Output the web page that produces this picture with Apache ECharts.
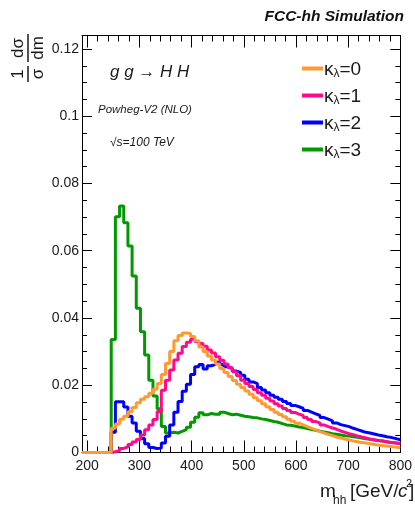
<!DOCTYPE html>
<html>
<head>
<meta charset="utf-8">
<script src="https://cdn.jsdelivr.net/npm/echarts@6/dist/echarts.min.js"></script>
<style>
  html, body { margin: 0; padding: 0; background: #fff; }
  #chart { width: 415px; height: 506px; }
</style>
</head>
<body>
<div id="chart"></div>
<script>
// Normalised m_hh distributions, 8 GeV bins starting at 190 GeV
const MASS_MIN = 190;
const MASS_MAX = 800;
const BIN_WIDTH = 8;

const leadingZeros = [0, 0, 0, 0, 0, 0, 0];

const kappa0 = leadingZeros.concat([
  0.0072, 0.0085, 0.0099, 0.0108, 0.0121, 0.0134, 0.0148, 0.0158, 0.0166, 0.0176,
  0.0188, 0.0205, 0.0232, 0.0265, 0.0300, 0.0332, 0.0348, 0.0355, 0.0354, 0.0345,
  0.0332, 0.0314, 0.0300, 0.0287, 0.0275, 0.0263, 0.0250, 0.0238, 0.0226, 0.0214,
  0.0203, 0.0193, 0.0183, 0.0173, 0.0163, 0.0154, 0.0145, 0.0136, 0.0128, 0.0120,
  0.0113, 0.0106, 0.0099, 0.0093, 0.0087, 0.0082, 0.0077, 0.0072, 0.0067, 0.0062,
  0.0058, 0.0054, 0.0050, 0.0046, 0.0043, 0.0040, 0.0037, 0.0034, 0.0032, 0.0030,
  0.0028, 0.0026, 0.0024, 0.0022, 0.0021, 0.0019, 0.0018, 0.0016, 0.0014
]);

const kappa1 = leadingZeros.concat([
  0.0002, 0.0006, 0.0012, 0.0017, 0.0024, 0.0031, 0.0039, 0.0052, 0.0068, 0.0082,
  0.0098, 0.0122, 0.0185, 0.0215, 0.0245, 0.0275, 0.0295, 0.0315, 0.0328, 0.0337,
  0.0330, 0.0324, 0.0316, 0.0305, 0.0296, 0.0285, 0.0274, 0.0263, 0.0252, 0.0240,
  0.0228, 0.0215, 0.0205, 0.0196, 0.0187, 0.0178, 0.0170, 0.0161, 0.0153, 0.0145,
  0.0138, 0.0131, 0.0125, 0.0119, 0.0114, 0.0110, 0.0104, 0.0098, 0.0092, 0.0088,
  0.0082, 0.0077, 0.0073, 0.0069, 0.0064, 0.0060, 0.0056, 0.0053, 0.0049, 0.0046,
  0.0043, 0.0040, 0.0038, 0.0036, 0.0034, 0.0032, 0.0030, 0.0028, 0.0026
]);

const kappa2 = leadingZeros.concat([
  0.0060, 0.0151, 0.0151, 0.0135, 0.0108, 0.0088, 0.0063, 0.0042, 0.0026, 0.0015,
  0.0012, 0.0013, 0.0028, 0.0048, 0.0082, 0.0120, 0.0152, 0.0182, 0.0203, 0.0232,
  0.0255, 0.0262, 0.0248, 0.0258, 0.0262, 0.0268, 0.0262, 0.0255, 0.0250, 0.0242,
  0.0238, 0.0230, 0.0218, 0.0210, 0.0205, 0.0193, 0.0186, 0.0178, 0.0170, 0.0164,
  0.0158, 0.0152, 0.0146, 0.0140, 0.0136, 0.0131, 0.0125, 0.0120, 0.0115, 0.0110,
  0.0104, 0.0099, 0.0094, 0.0088, 0.0083, 0.0080, 0.0077, 0.0072, 0.0068, 0.0064,
  0.0060, 0.0058, 0.0055, 0.0052, 0.0050, 0.0047, 0.0045, 0.0042, 0.0038
]);

const kappa3 = leadingZeros.concat([
  0.0336, 0.0701, 0.0733, 0.0683, 0.0614, 0.0525, 0.0429, 0.0359, 0.0290, 0.0215,
  0.0168, 0.0130, 0.0077, 0.0058, 0.0060, 0.0058, 0.0063, 0.0068, 0.0075, 0.0090,
  0.0105, 0.0118, 0.0112, 0.0116, 0.0114, 0.0114, 0.0120, 0.0116, 0.0112, 0.0114,
  0.0111, 0.0108, 0.0106, 0.0104, 0.0103, 0.0100, 0.0098, 0.0095, 0.0092, 0.0090,
  0.0086, 0.0082, 0.0081, 0.0079, 0.0076, 0.0074, 0.0071, 0.0068, 0.0066, 0.0063,
  0.0061, 0.0059, 0.0056, 0.0054, 0.0052, 0.0050, 0.0049, 0.0047, 0.0045, 0.0043,
  0.0041, 0.0039, 0.0037, 0.0035, 0.0034, 0.0032, 0.0030, 0.0029, 0.0027
]);

const seriesNames = ['κλ=0', 'κλ=1', 'κλ=2', 'κλ=3'];
const kappaValues = ['0', '1', '2', '3'];
const seriesColors = ['#FF9A33', '#FF0A8C', '#0000FF', '#009A00'];

const xMajorTicks = [200, 300, 400, 500, 600, 700, 800];
const xMinorTicks = [200, 220, 240, 260, 280, 300, 320, 340, 360, 380, 400, 420, 440, 460,
  480, 500, 520, 540, 560, 580, 600, 620, 640, 660, 680, 700, 720, 740, 760, 780, 800];
const yMajorTicks = [0, 0.02, 0.04, 0.06, 0.08, 0.1, 0.12];
const yMinorTicks = [0, 0.005, 0.01, 0.015, 0.02, 0.025, 0.03, 0.035, 0.04, 0.045, 0.05,
  0.055, 0.06, 0.065, 0.07, 0.075, 0.08, 0.085, 0.09, 0.095, 0.1, 0.105, 0.11, 0.115, 0.12];
const Y_MAX = 0.124;

const FONT = '"Liberation Sans", Arial, Helvetica, sans-serif';
const INK = '#1a1a1a';

// histogram outline: [lowEdge, content] pairs, closed at the upper edge
function histPoints(values) {
  const pts = values.map((v, i) => [MASS_MIN + i * BIN_WIDTH, v]);
  pts.push([MASS_MAX, values[values.length - 1]]);
  return pts;
}

function xLayer(position, ticks, len, withLabels, withLine) {
  return {
    type: 'value', position: position, min: MASS_MIN, max: MASS_MAX,
    axisLine: { show: withLine, onZero: false, lineStyle: { color: '#000', width: 1 } },
    axisTick: { show: true, inside: true, length: len, customValues: ticks,
      lineStyle: { color: '#000', width: 1 } },
    axisLabel: withLabels
      ? { show: true, customValues: ticks, fontFamily: FONT, fontSize: 14, color: INK, margin: 7 }
      : { show: false },
    splitLine: { show: false }
  };
}

function yLayer(position, ticks, len, withLabels, withLine) {
  return {
    type: 'value', position: position, min: 0, max: Y_MAX,
    axisLine: { show: withLine, onZero: false, lineStyle: { color: '#000', width: 1 } },
    axisTick: { show: true, inside: true, length: len, customValues: ticks,
      lineStyle: { color: '#000', width: 1 } },
    axisLabel: withLabels
      ? { show: true, customValues: ticks, fontFamily: FONT, fontSize: 14, color: INK, margin: 3,
          formatter: v => (v === 0 ? '0' : String(+v.toFixed(3))) }
      : { show: false },
    splitLine: { show: false }
  };
}

const drawOrder = [3, 2, 1, 0];
const series = drawOrder.map(k => ({
  name: seriesNames[k],
  type: 'line',
  step: 'end',
  xAxisIndex: 0,
  yAxisIndex: 0,
  symbol: 'none',
  clip: false,
  data: histPoints([kappa0, kappa1, kappa2, kappa3][k]),
  lineStyle: { color: seriesColors[k], width: 3 },
  itemStyle: { color: seriesColors[k] },
  z: 3
}));

const legendLabel = {};
seriesNames.forEach((n, i) => { legendLabel[n] = kappaValues[i]; });

// pieces of the x-axis title  m_hh [GeV/c^2]
const xTitleParts = [
  { text: 'm', x: 320, y: 492, font: '19px ' + FONT },
  { text: 'hh', x: 333, y: 501, font: '12px ' + FONT },
  { text: '[GeV/', x: 350, y: 492, font: '19px ' + FONT },
  { text: 'c', x: 398, y: 492, font: 'italic 19px ' + FONT },
  { text: '2', x: 406, y: 484, font: '11px ' + FONT },
  { text: ']', x: 409, y: 492, font: '19px ' + FONT }
];

const chart = echarts.init(document.getElementById('chart'), null, { renderer: 'canvas' });
chart.setOption({
  animation: false,
  backgroundColor: '#fff',
  grid: { left: 82, right: 2, top: 35.5, bottom: 53.5 },
  xAxis: [
    xLayer('bottom', xMajorTicks, 12, true, true),
    xLayer('bottom', xMinorTicks, 6, false, false),
    xLayer('top', xMajorTicks, 12, false, true),
    xLayer('top', xMinorTicks, 6, false, false)
  ],
  yAxis: [
    yLayer('left', yMajorTicks, 10, true, true),
    yLayer('left', yMinorTicks, 5, false, false),
    yLayer('right', yMajorTicks, 10, false, true),
    yLayer('right', yMinorTicks, 5, false, false)
  ],
  legend: {
    orient: 'vertical', left: 297, top: 55.5,
    itemWidth: 21, itemHeight: 4, itemGap: 8, icon: 'rect',
    data: seriesNames,
    formatter: name => '{k|κ}{l|λ}{v|=' + legendLabel[name] + '}',
    textStyle: {
      padding: [0, 0, 0, -4],
      rich: {
        k: { fontFamily: FONT, fontSize: 19, color: INK, lineHeight: 22, verticalAlign: 'bottom' },
        l: { fontFamily: FONT, fontSize: 12, color: INK, lineHeight: 12, verticalAlign: 'bottom' },
        v: { fontFamily: FONT, fontSize: 19, color: INK, lineHeight: 22, verticalAlign: 'bottom' }
      }
    },
    selectedMode: false
  },
  series: series,
  graphic: [
    { type: 'text', x: 404, y: 17,
      style: { text: 'FCC-hh Simulation', font: 'italic bold 15.5px ' + FONT, fill: '#111',
        align: 'right', verticalAlign: 'middle' } },
    { type: 'text', x: 110, y: 72,
      style: { text: 'g g → H H', font: 'italic 17px ' + FONT, fill: INK,
        align: 'left', verticalAlign: 'middle' } },
    { type: 'text', x: 98, y: 110,
      style: { text: 'Powheg-V2 (NLO)', font: 'italic 11.5px ' + FONT, fill: INK,
        align: 'left', verticalAlign: 'middle' } },
    { type: 'text', x: 110, y: 143,
      style: { text: '√s=100 TeV', font: 'italic 12px ' + FONT, fill: INK,
        align: 'left', verticalAlign: 'middle' } }
  ].concat(xTitleParts.map(p => ({
    type: 'text', x: p.x, y: p.y,
    style: { text: p.text, font: p.font, fill: INK, align: 'left', verticalAlign: 'middle' }
  }))).concat([
    // y-axis title: (1/σ)(dσ/dm), written bottom to top
    { type: 'group', x: 28, y: 88, rotation: Math.PI / 2,
      children: [
        { type: 'text', x: 14, y: -1,
          style: { text: '1', font: '17px ' + FONT, fill: INK, align: 'center', verticalAlign: 'bottom' } },
        { type: 'line', shape: { x1: 6, y1: 0, x2: 22, y2: 0 }, style: { stroke: INK, lineWidth: 1.5 } },
        { type: 'text', x: 14, y: 2,
          style: { text: 'σ', font: '17px ' + FONT, fill: INK, align: 'center', verticalAlign: 'top' } },
        { type: 'text', x: 40, y: -1,
          style: { text: 'dσ', font: '17px ' + FONT, fill: INK, align: 'center', verticalAlign: 'bottom' } },
        { type: 'line', shape: { x1: 26, y1: 0, x2: 54, y2: 0 }, style: { stroke: INK, lineWidth: 1.5 } },
        { type: 'text', x: 40, y: 2,
          style: { text: 'dm', font: '17px ' + FONT, fill: INK, align: 'center', verticalAlign: 'top' } }
      ] }
  ])
});
</script>
</body>
</html>
